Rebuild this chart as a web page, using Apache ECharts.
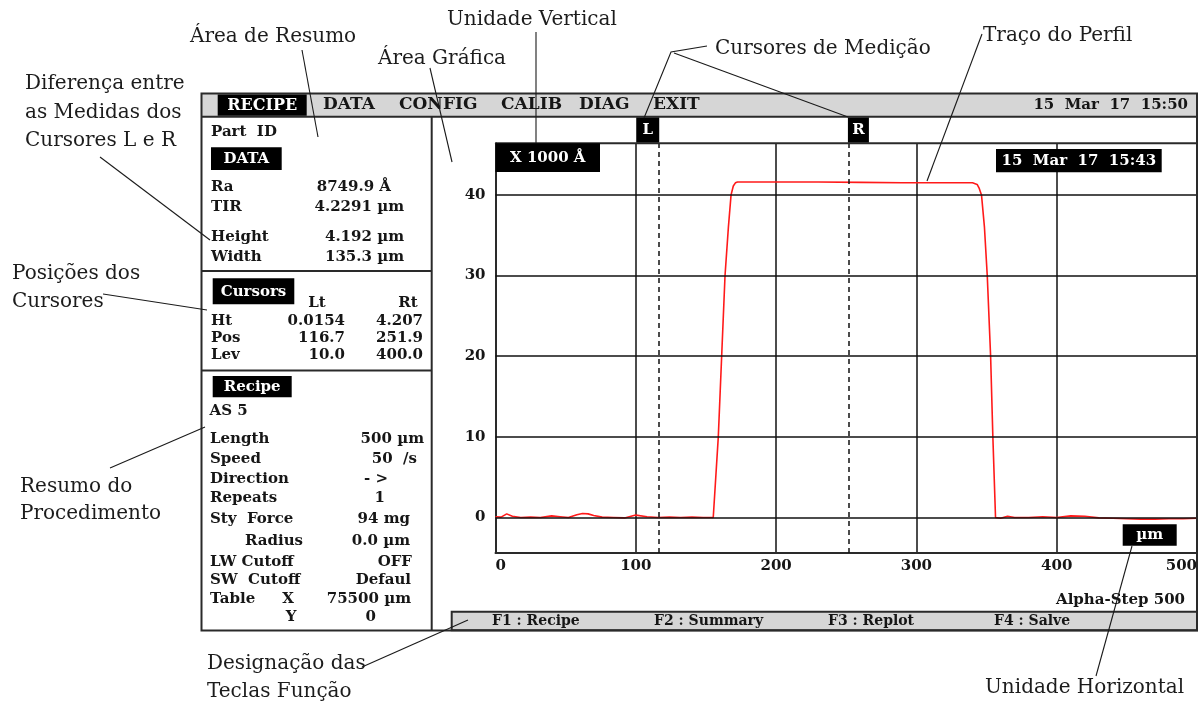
<!DOCTYPE html>
<html>
<head>
<meta charset="utf-8">
<script src="https://cdn.jsdelivr.net/npm/echarts@6/dist/echarts.min.js"></script>
<style>
  html, body { margin: 0; padding: 0; background: #fff; }
  #chart { width: 1201px; height: 702px; }
</style>
</head>
<body>
<div id="chart"></div>
<script>
// Step profile: scan position (µm) and height (units of 1000 Å)
const profileX = [0, 4, 8, 12, 18, 25, 32, 40, 46, 52, 58, 62, 66, 70, 76, 84, 92, 100, 108, 116, 124, 132, 140, 148,
  155.2, 157, 158.8, 161.2, 163.6, 166, 167.9, 169.5, 171, 172.5, 200, 230, 260, 290, 320, 340,
  343.3, 344.8, 346.4, 348.5, 350.5, 352.9, 354.5, 356.4, 360, 365, 370, 380, 390, 400, 410, 420, 430, 440, 450,
  460, 470, 480, 490, 500];
const profileY = [0.1, 0.05, 0.45, 0.15, 0.0, 0.05, 0.0, 0.2, 0.1, 0.0, 0.35, 0.5, 0.45, 0.25, 0.05, 0.0, -0.05, 0.3, 0.1, 0.0, 0.05, 0.0, 0.05, 0.0,
  0.0, 5, 10, 20, 30, 36, 40, 41.1, 41.5, 41.6, 41.6, 41.6, 41.55, 41.5, 41.5, 41.5,
  41.3, 40.8, 40, 36, 30, 20, 10, 0, -0.1, 0.15, 0.0, 0.0, 0.1, 0.0, 0.2, 0.15, -0.05, -0.1, -0.15,
  -0.2, -0.2, -0.15, -0.15, -0.1];

// Axis ticks
const xTicks = [0, 100, 200, 300, 400, 500];
const yTicks = [0, 10, 20, 30, 40];

// Measurement cursors (position in µm)
const cursorNames = ['L', 'R'];
const cursorPos = [116.7, 251.9];

// Menu and function keys
const menuItems = ['DATA', 'CONFIG', 'CALIB', 'DIAG', 'EXIT'];
const menuX = [323, 399, 501, 579, 653];
const fnKeys = ['F1 : Recipe', 'F2 : Summary', 'F3 : Replot', 'F4 : Salve'];
const fnX = [492, 654, 828, 994];

// Summary panel rows
const dataRows = [['Ra', '8749.9 Å', 187], ['TIR', '4.2291 µm', 207], ['Height', '4.192 µm', 237], ['Width', '135.3 µm', 257]];
const cursorRows = [['Ht', '0.0154', '4.207', 321], ['Pos', '116.7', '251.9', 338], ['Lev', '10.0', '400.0', 355]];
const recipeRows = [
  ['Length', 210, '500 µm', 424, 439],
  ['Speed', 210, '50  /s', 417, 459],
  ['Direction', 210, '- >', 388, 479],
  ['Repeats', 210, '1', 385, 498],
  ['Sty  Force', 210, '94 mg', 410, 519],
  ['Radius', 245, '0.0 µm', 410, 541],
  ['LW Cutoff', 210, 'OFF', 412, 562],
  ['SW  Cutoff', 210, 'Defaul', 411, 580],
  ['Table', 210, '75500 µm', 411, 599],
  ['', 210, '0', 376, 617]
];

// Callouts: text lines [text, x, y] and leader lines
const callouts = [
  ['Unidade Vertical', 447, 20], ['Área de Resumo', 190, 37], ['Área Gráfica', 378, 59],
  ['Diferença entre', 25, 84], ['as Medidas dos', 25, 113], ['Cursores L e R', 25, 141],
  ['Cursores de Medição', 715, 49], ['Traço do Perfil', 983, 36],
  ['Posições dos', 12, 274], ['Cursores', 12, 302],
  ['Resumo do', 20, 487], ['Procedimento', 20, 514],
  ['Designação das', 207, 664], ['Teclas Função', 207, 692],
  ['Unidade Horizontal', 985, 688]
];
const leaders = [
  [[536, 32], [536, 143]],
  [[302, 50], [318, 137]],
  [[430, 68], [452, 162]],
  [[100, 157], [210, 240]],
  [[103, 294], [207, 310]],
  [[110, 468], [205, 427]],
  [[707, 46], [671, 52], [644, 118]],
  [[674, 53], [848, 117]],
  [[982, 34], [927, 181]],
  [[1096, 676], [1132, 546]],
  [[362, 667], [468, 620]]
];

const UI = '"DejaVu Serif", "Liberation Serif", serif';
const NOTE = '"DejaVu Serif", "Liberation Serif", serif';
const INK = '#161616';

function T(text, x, y, o) {
  o = o || {};
  return {
    type: 'text', x: x, y: y, z: 100, silent: true,
    style: {
      text: text, fill: o.fill || INK,
      font: (o.weight || 'bold') + ' ' + (o.size || 15) + 'px ' + (o.family || UI),
      align: o.align || 'left', verticalAlign: 'middle'
    }
  };
}
function Rc(x, y, w, h, fill, stroke, lw) {
  return {
    type: 'rect', z: 100, silent: true, shape: { x: x, y: y, width: w, height: h },
    style: { fill: fill || null, stroke: stroke || null, lineWidth: lw || 0 }
  };
}
function Ln(x1, y1, x2, y2, lw, color) {
  return {
    type: 'line', z: 100, silent: true, shape: { x1: x1, y1: y1, x2: x2, y2: y2 },
    style: { stroke: color || '#2a2a2a', lineWidth: lw || 2 }
  };
}
function Box(text, x, y, w, h, size) {
  return [Rc(x, y, w, h, '#000'), T(text, x + w / 2, y + h / 2 + 0.5, { fill: '#fff', align: 'center', size: size || 15 })];
}

const chart = echarts.init(document.getElementById('chart'), null, { renderer: 'canvas' });

const G = [];
// frame, menu bar, panels
G.push(Rc(201.5, 93.5, 995.5, 23, '#d6d6d6', null, 0));
G.push(Rc(451.7, 611.7, 745.3, 18.6, '#d6d6d6', '#2a2a2a', 2));
G.push(Ln(201.5, 116.7, 1197, 116.7));
G.push(Ln(431.7, 116.7, 431.7, 630.5));
G.push(Ln(201.5, 271, 431.7, 271));
G.push(Ln(201.5, 370.5, 431.7, 370.5));
G.push(Ln(495.5, 143.3, 1197, 143.3));
G.push(Rc(201.5, 93.5, 995.5, 537, null, '#2a2a2a', 2));

// menu
G.push(...Box('RECIPE', 217.7, 94.5, 89, 21.2, 16));
menuItems.forEach((m, i) => G.push(T(m, menuX[i], 105, { size: 17 })));
G.push(T('15  Mar  17  15:50', 1188, 105, { align: 'right', size: 15 }));

// summary: data
G.push(T('Part  ID', 211, 132));
G.push(...Box('DATA', 211, 147.3, 70.7, 22.7));
dataRows.forEach(r => {
  G.push(T(r[0], 211, r[2]));
  G.push(T(r[1], r[0] === 'Ra' ? 391 : 404, r[2], { align: 'right' }));
});

// summary: cursors
G.push(...Box('Cursors', 212.7, 278.3, 81.6, 26, 15));
G.push(T('Lt', 317, 302.7, { align: 'center' }));
G.push(T('Rt', 408, 302.7, { align: 'center' }));
cursorRows.forEach(r => {
  G.push(T(r[0], 211, r[3]));
  G.push(T(r[1], 345, r[3], { align: 'right' }));
  G.push(T(r[2], 423, r[3], { align: 'right' }));
});

// summary: recipe
G.push(...Box('Recipe', 212.7, 376, 79, 21.3, 15));
G.push(T('AS 5', 209.5, 411));
recipeRows.forEach(r => {
  if (r[0]) G.push(T(r[0], r[1], r[4]));
  G.push(T(r[2], r[3], r[4], { align: 'right' }));
});
G.push(T('X', 288, 599, { align: 'center' }));
G.push(T('Y', 291, 617, { align: 'center' }));

// plot overlays
G.push(...Box('X 1000 Å', 495.5, 143.3, 104.5, 28.7, 15));
G.push(...Box('15  Mar  17  15:43', 996, 149, 165.7, 23.3, 15));
G.push(...Box('µm', 1122.7, 524.3, 54, 21.4, 15));
G.push(T('Alpha-Step 500', 1185, 600, { align: 'right' }));

// function keys
fnKeys.forEach((f, i) => G.push(T(f, fnX[i], 621, { size: 14 })));

// callouts
callouts.forEach(c => G.push(T(c[0], c[1], c[2], { weight: 'normal', size: 20, family: NOTE, fill: '#1c1c1c' })));
leaders.forEach(p => G.push({
  type: 'polyline', z: 110, silent: true, shape: { points: p },
  style: { stroke: '#1a1a1a', lineWidth: 1.1, fill: null }
}));

const gridLines = yTicks.map(v => ({ yAxis: v }));
const cursorLines = cursorPos.map(v => ({ xAxis: v }));
const profile = profileX.map((x, i) => [x, profileY[i]]);

chart.setOption({
  animation: false,
  backgroundColor: '#fff',
  grid: { left: 495.5, top: 143.3, width: 701.5, height: 409.7, containLabel: false },
  xAxis: {
    type: 'value', min: 0, max: 500, interval: 100,
    axisLine: { show: true, onZero: false, lineStyle: { color: '#2a2a2a', width: 2 } },
    axisTick: { show: false },
    splitLine: { show: true, lineStyle: { color: '#111', width: 1.5 } },
    axisLabel: {
      color: INK, fontFamily: UI, fontWeight: 'bold', fontSize: 15, margin: 6,
      alignMinLabel: 'left', alignMaxLabel: 'right'
    }
  },
  yAxis: {
    type: 'value', min: -4.4, max: 46.4,
    axisLine: { show: true, onZero: false, lineStyle: { color: '#2a2a2a', width: 2 } },
    axisTick: { show: false },
    splitLine: { show: false },
    axisLabel: { customValues: yTicks, color: INK, fontFamily: UI, fontWeight: 'bold', fontSize: 15, margin: 10 }
  },
  series: [
    {
      type: 'line', data: [], z: 1, silent: true,
      markLine: {
        silent: true, symbol: 'none', label: { show: false }, animation: false,
        lineStyle: { color: '#111', width: 1.5, type: 'solid' },
        data: gridLines
      }
    },
    {
      type: 'line', data: profile, z: 3, showSymbol: false, silent: true,
      lineStyle: { color: '#ff1a1a', width: 1.6 },
      markLine: {
        silent: true, symbol: 'none', label: { show: false }, animation: false,
        lineStyle: { color: '#111', width: 1.5, type: [5, 4] },
        data: cursorLines
      }
    }
  ],
  graphic: { elements: G }
});

// cursor tags above the plot, placed from the axis scale
const tags = [];
cursorPos.forEach((p, i) => {
  const px = chart.convertToPixel({ gridIndex: 0 }, [p, 0])[0];
  const w = cursorNames[i] === 'L' ? 23 : 21;
  const x = cursorNames[i] === 'L' ? px - w : px - 1;
  tags.push(...Box(cursorNames[i], x, 117.5, w, 25, 15));
});
chart.setOption({ graphic: { elements: G.concat(tags) } }, { replaceMerge: ['graphic'] });
</script>
</body>
</html>
